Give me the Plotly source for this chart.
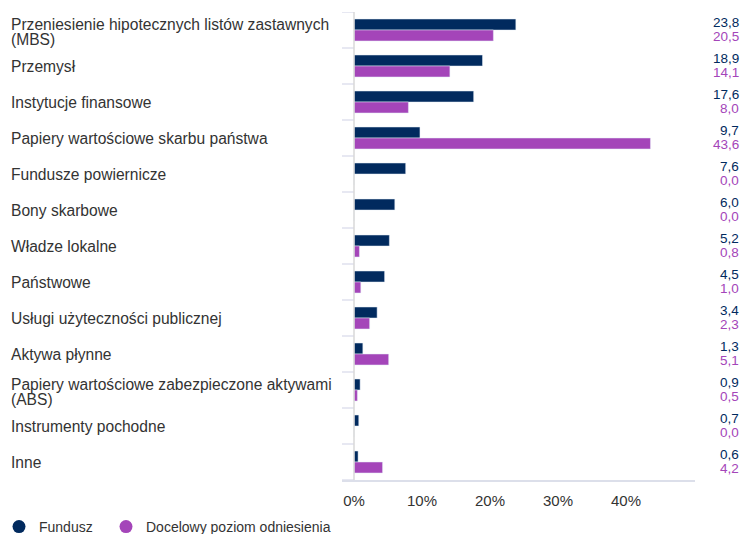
import plotly.graph_objects as go

categories = [
    "Przeniesienie hipotecznych listów zastawnych<br>(MBS)",
    "Przemysł",
    "Instytucje finansowe",
    "Papiery wartościowe skarbu państwa",
    "Fundusze powiernicze",
    "Bony skarbowe",
    "Władze lokalne",
    "Państwowe",
    "Usługi użyteczności publicznej",
    "Aktywa płynne",
    "Papiery wartościowe zabezpieczone aktywami<br>(ABS)",
    "Instrumenty pochodne",
    "Inne",
]
fund = [23.8, 18.9, 17.6, 9.7, 7.6, 6.0, 5.2, 4.5, 3.4, 1.3, 0.9, 0.7, 0.6]
bench = [20.5, 14.1, 8.0, 43.6, 0.0, 0.0, 0.8, 1.0, 2.3, 5.1, 0.5, 0.0, 4.2]
series_names = ["Fundusz", "Docelowy poziom odniesienia"]
x_ticks = [0, 10, 20, 30, 40]
x_tick_labels = ["0%", "10%", "20%", "30%", "40%"]

NAVY = "#012a5e"
PURPLE = "#a445b9"
TEXT = "#333333"
FONT = "Liberation Sans, Arial, sans-serif"

W, H = 743, 534
ML, MR, MT, MB = 342, 48, 12, 54
PW = W - ML - MR
PH = H - MT - MB
XMIN, XMAX = -1.765, 50.15

ids = list(range(len(categories)))

fig = go.Figure()
fig.add_trace(go.Bar(y=ids, x=fund, orientation="h", marker_color=NAVY,
                     name=series_names[0], showlegend=False, hoverinfo="x"))
fig.add_trace(go.Bar(y=ids, x=bench, orientation="h", marker_color=PURPLE,
                     name=series_names[1], showlegend=False, hoverinfo="x"))
# legend entries with circle markers (one legend box each, for spacing)
for nm, col, lg in zip(series_names, [NAVY, PURPLE], ["legend", "legend2"]):
    fig.add_trace(go.Scatter(x=[None], y=[None], mode="markers", name=nm,
                             legend=lg,
                             marker=dict(symbol="circle", size=13, color=col)))

def fmt(v):
    return f"{v:.1f}".replace(".", ",")

annotations = []
lab_x = (9 - ML) / PW
val_x = (741 - ML) / PW
for i, (c, f, b) in enumerate(zip(categories, fund, bench)):
    lines = c.split("<br>")
    shifts = [0] if len(lines) == 1 else [6, -9.5]
    for ln, sh in zip(lines, shifts):
        annotations.append(dict(x=lab_x, y=i, xref="paper", yref="y", text=ln,
                                showarrow=False, xanchor="left", yanchor="middle",
                                yshift=sh, align="left",
                                font=dict(size=15.6, color=TEXT, family=FONT)))
    annotations.append(dict(x=val_x, y=i, xref="paper", yref="y", text=fmt(f),
                            showarrow=False, xanchor="right", yanchor="middle",
                            yshift=7.2, font=dict(size=13.5, color=NAVY, family=FONT)))
    annotations.append(dict(x=val_x, y=i, xref="paper", yref="y", text=fmt(b),
                            showarrow=False, xanchor="right", yanchor="middle",
                            yshift=-6.8, font=dict(size=13.5, color=PURPLE, family=FONT)))

shapes = []
for i in range(len(categories) + 1):
    shapes.append(dict(type="line", xref="x", yref="y", x0=XMIN, x1=0,
                       y0=i - 0.5, y1=i - 0.5, line=dict(color="#dfe1ee", width=1.5)))
shapes.append(dict(type="line", xref="x", yref="paper", x0=0, x1=0, y0=0, y1=1,
                   line=dict(color="#d9d9d9", width=1.5)))

legend_common = dict(orientation="h", y=-47 / PH, xanchor="left", yanchor="middle",
                     font=dict(size=14, color=TEXT, family=FONT), itemclick=False,
                     bgcolor="rgba(0,0,0,0)")

fig.update_layout(
    width=W, height=H,
    margin=dict(l=ML, r=MR, t=MT, b=MB, pad=0, autoexpand=False),
    paper_bgcolor="white", plot_bgcolor="white",
    barmode="group", bargap=0.39, bargroupgap=0,
    font=dict(family=FONT, size=14, color=TEXT),
    xaxis=dict(range=[XMIN, XMAX], tickmode="array", tickvals=x_ticks,
               ticktext=x_tick_labels, ticklabelstandoff=6,
               showgrid=False, zeroline=False, showline=True,
               linecolor="#dcdfea", linewidth=1.5, ticks="",
               tickfont=dict(size=15, color=TEXT, family=FONT)),
    yaxis=dict(range=[len(categories) - 0.5, -0.5], showticklabels=False,
               showgrid=False, zeroline=False, showline=False, ticks=""),
    legend=dict(x=(-1 - ML) / PW, **legend_common),
    legend2=dict(x=(106 - ML) / PW, **legend_common),
    annotations=annotations,
    shapes=shapes,
)

fig.write_html("out.html",
               config={"displayModeBar": False},
               post_script="document.body.style.margin='0';document.body.style.overflow='hidden';")
